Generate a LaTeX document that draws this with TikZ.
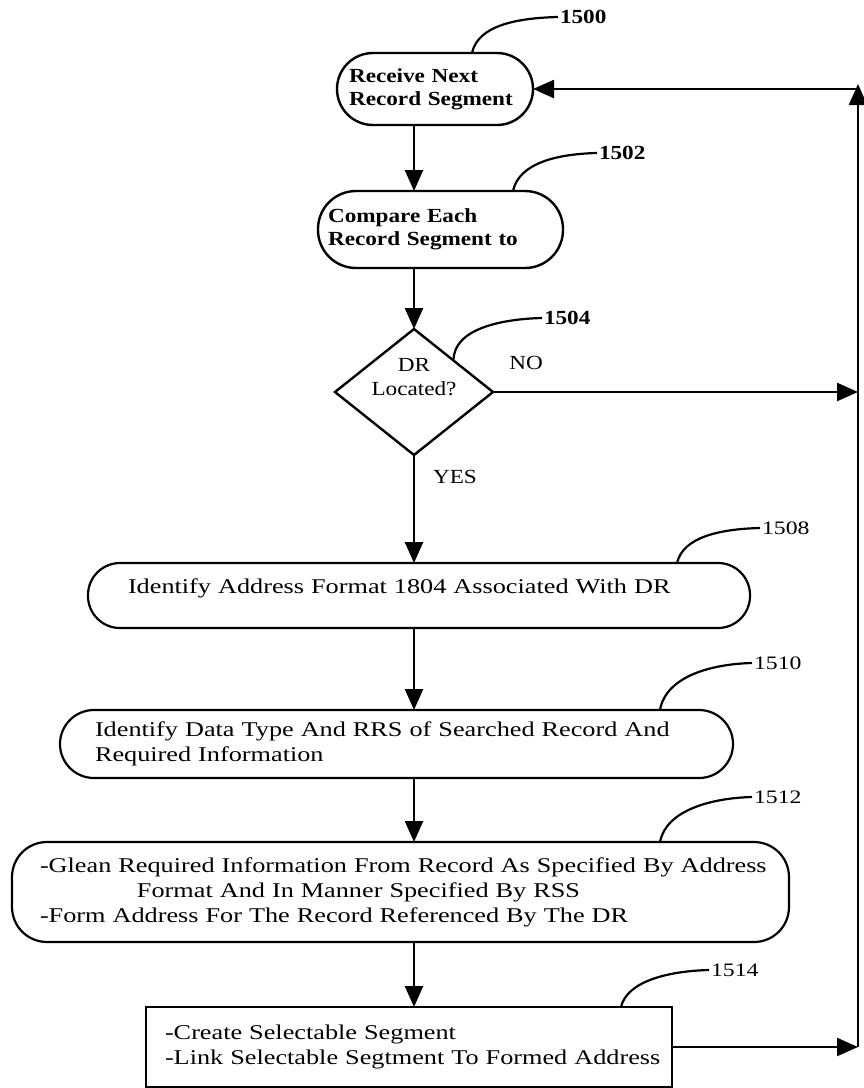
\documentclass[tikz,border=0pt]{standalone}
\usepackage{fontspec}
\setmainfont{Liberation Serif}
\newfontfamily\upfont[FakeStretch=1.16]{Liberation Serif}
\newfontfamily\lowfont[FakeStretch=1.25]{Liberation Serif}
\usetikzlibrary{arrows.meta,shapes.geometric}

\begin{document}
\begin{tikzpicture}[x=1pt,y=-1pt,
  every node/.style={inner sep=0pt, outer sep=0pt},
  flow/.style={line width=2.4pt, -{Triangle[length=21pt,width=18pt]}},
  lead/.style={line width=2.2pt},
  upbox/.style={draw, line width=2.4pt, align=left,
    font=\upfont\bfseries\fontsize{20pt}{23pt}\selectfont},
  lowbox/.style={draw, line width=2.2pt, align=left,
    font=\lowfont\fontsize{21pt}{25pt}\selectfont},
  uptext/.style={font=\upfont\fontsize{20pt}{24pt}\selectfont},
  uplabel/.style={inner sep=2pt, anchor=west, font=\upfont\bfseries\fontsize{20pt}{24pt}\selectfont},
  lowlabel/.style={inner sep=2pt, anchor=west, font=\lowfont\fontsize{19pt}{23pt}\selectfont}
]
\useasboundingbox (0,0) rectangle (863,1088);

% process steps
\node[upbox, rounded corners=36pt, minimum height=72pt, text width=172pt, inner xsep=12pt]
  (b1500) at (435,89) {Receive Next\\Record Segment};
\node[upbox, rounded corners=38pt, minimum height=77pt, text width=225pt, inner xsep=10pt]
  (b1502) at (440.5,229.5) {Compare Each\\Record Segment to};
\node[draw, diamond, line width=2.4pt, minimum width=158pt, minimum height=126pt, aspect=1.25]
  (d1504) at (414,392) {};
\node[uptext, align=center] (t1504) at (414,377) {DR\\Located?};
\node[lowbox, rounded corners=32pt, minimum height=65pt, text width=582pt, inner xsep=40pt]
  (b1508) at (419,595.5) {\mbox{Identify Address Format 1804 Associated With DR}\\[-6pt]\mbox{}};
\node[lowbox, rounded corners=34pt, minimum height=68pt, text width=603pt, inner xsep=35pt]
  (b1510) at (396.5,744) {\mbox{Identify Data Type And RRS of Searched Record And}\\\mbox{Required Information}};
\node[lowbox, rounded corners=35pt, minimum height=100pt, text width=721pt, inner xsep=28pt]
  (b1512) at (400.5,892) {\mbox{-Glean Required Information From Record As Specified By Address}\\
    \mbox{\hspace*{97pt}Format And In Manner Specified By RSS}\\
    \mbox{-Form Address For The Record Referenced By The DR}};
\node[lowbox, rectangle, minimum height=80pt, text width=488pt, inner xsep=19pt]
  (b1514) at (409,1047) {\mbox{-Create Selectable Segment}\\\mbox{-Link Selectable Segtment To Formed Address}};

% return line on the right
\coordinate (rtop) at (858,84);
\coordinate (rbot) at (858,1047);

% main flow
\draw[flow] (b1500.south -| d1504.north) -- (b1502.north -| d1504.north);
\draw[flow] (b1502.south -| d1504.north) -- (d1504.north);
\draw[flow] (d1504.south) -- (b1508.north -| d1504.south);
\draw[flow] (b1508.south -| d1504.south) -- (b1510.north -| d1504.south);
\draw[flow] (b1510.south -| d1504.south) -- (b1512.north -| d1504.south);
\draw[flow] (b1512.south -| d1504.south) -- (b1514.north -| d1504.south);
\draw[flow] (d1504.east) -- (d1504.east -| rbot);
\draw[flow] (b1514.east) -- (rbot);
\draw[flow] (rbot) -- (rtop);
\draw[flow] (rtop |- b1500.east) -- (b1500.east);

\node[uptext] (no) at (526,363) {NO};
\node[uptext, anchor=west] (yes) at (433,477) {YES};

% reference numerals
\node[uplabel] (l1500) at (558,17) {1500};
\node[uplabel] (l1502) at (597,153) {1502};
\node[uplabel] (l1504) at (542,318) {1504};
\node[lowlabel] (l1508) at (760,528) {1508};
\node[lowlabel] (l1510) at (752,663) {1510};
\node[lowlabel] (l1512) at (752,797) {1512};
\node[lowlabel] (l1514) at (709,970) {1514};

\draw[lead] ([xshift=37pt]b1500.north) .. controls +(6,-28) and +(-40,1) .. (l1500.west);
\draw[lead] ([xshift=72.5pt]b1502.north) .. controls +(6,-28) and +(-40,1) .. (l1502.west);
\draw[lead] (d1504.north east) .. controls +(0,-32) and +(-40,1) .. (l1504.west);
\draw[lead] ([xshift=258pt]b1508.north) .. controls +(6,-26) and +(-40,1) .. (l1508.west);
\draw[lead] ([xshift=263.5pt]b1510.north) .. controls +(6,-34) and +(-40,1) .. (l1510.west);
\draw[lead] ([xshift=259.5pt]b1512.north) .. controls +(6,-32) and +(-40,1) .. (l1512.west);
\draw[lead] ([xshift=212pt]b1514.north) .. controls +(6,-26) and +(-40,1) .. (l1514.west);
\end{tikzpicture}
\end{document}
